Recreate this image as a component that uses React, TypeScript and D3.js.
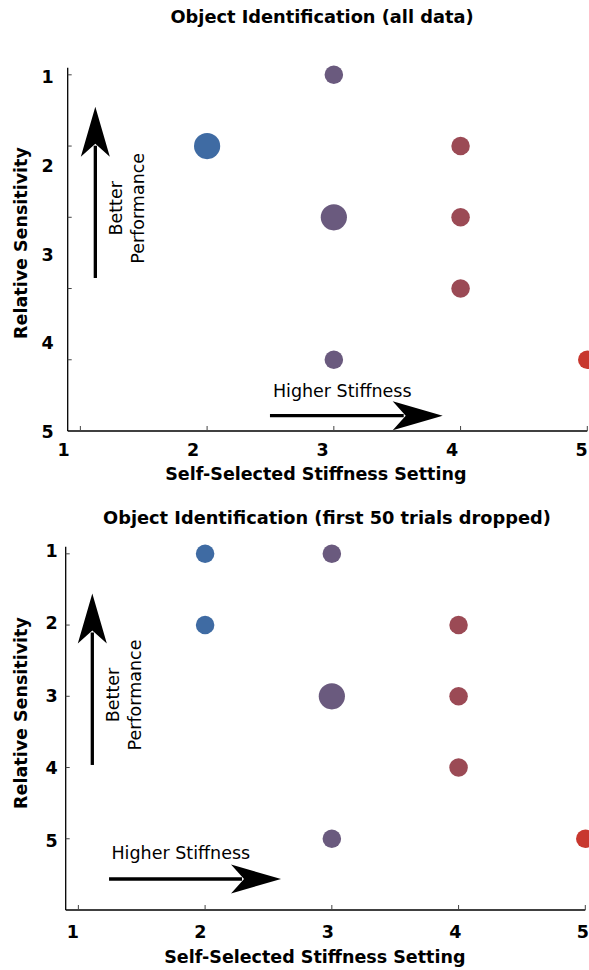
import React from "react";
import * as d3 from "d3";

// Stiffness settings and sensitivity ranks shown on the axes
const stiffnessTicks = [1, 2, 3, 4, 5];
const sensitivityTicks = [1, 2, 3, 4, 5];

// Object identification, all data
const allStiffness = [3, 2, 4, 3, 4, 4, 3, 5];
const allSensitivity = [1, 2, 2, 3, 3, 4, 5, 5];
const allCount = [1, 2, 1, 2, 1, 1, 1, 1];

// Object identification, first 50 trials dropped
const droppedStiffness = [2, 3, 2, 4, 3, 4, 4, 3, 5];
const droppedSensitivity = [1, 1, 2, 2, 3, 3, 4, 5, 5];
const droppedCount = [1, 1, 1, 1, 2, 1, 1, 1, 1];

// One colour per stiffness setting, blue (soft) to red (stiff)
const settingDomain = [2, 3, 4, 5];
const settingColors = ["#3f6ba3", "#6a5a7e", "#9b4a55", "#c8372e"];

const FONT = "'DejaVu Sans', Verdana, sans-serif";

type Layout = {
  title: string;
  titleX: number;
  titleY: number;
  xRange: [number, number];
  yRange: [number, number];
  xLabelRange: [number, number];
  xLabelY: number;
  yLabelRange: [number, number];
  yLabelX: number;
  xTitleY: number;
  yTitleY: number;
  // annotation anchors, in data units
  upArrow: { x: number; tail: number; tip: number; textY: number };
  rightArrow: { y: number; tail: number; tip: number; textX: number; textY: number };
};

const topLayout: Layout = {
  title: "Object Identification (all data)",
  titleX: 322,
  titleY: 22.5,
  xRange: [67.7, 587.3],
  yRange: [67.7, 431],
  xLabelRange: [63.5, 581.7],
  xLabelY: 455.5,
  yLabelRange: [82.7, 438.3],
  yLabelX: 47.5,
  xTitleY: 480,
  yTitleY: 243,
  upArrow: { x: 1.118, tail: 3.852, tip: 1.4475, textY: 2.874 },
  rightArrow: { y: 5.785, tail: 2.496, tip: 3.859, textX: 2.519, textY: 5.522 },
};

const bottomLayout: Layout = {
  title: "Object Identification (first 50 trials dropped)",
  titleX: 327,
  titleY: 524,
  xRange: [65.7, 585.3],
  yRange: [546.7, 910],
  xLabelRange: [72.9, 582.9],
  xLabelY: 937.5,
  yLabelRange: [556.7, 846.7],
  yLabelX: 51.5,
  xTitleY: 963,
  yTitleY: 713,
  upArrow: { x: 1.11, tail: 3.964, tip: 1.557, textY: 2.982 },
  rightArrow: { y: 5.565, tail: 1.242, tip: 2.599, textX: 1.261, textY: 5.287 },
};

function Arrow({ x1, y1, x2, y2 }: { x1: number; y1: number; x2: number; y2: number }) {
  const len = Math.hypot(x2 - x1, y2 - y1);
  const ux = (x2 - x1) / len;
  const uy = (y2 - y1) / len;
  const nx = -uy;
  const ny = ux;
  const headLen = 50;
  const notch = 37;
  const half = 14.5;
  const bx = x2 - headLen * ux;
  const by = y2 - headLen * uy;
  const head = [
    [x2, y2],
    [bx + half * nx, by + half * ny],
    [x2 - notch * ux, y2 - notch * uy],
    [bx - half * nx, by - half * ny],
  ];
  return (
    <g>
      <line
        x1={x1}
        y1={y1}
        x2={x2 - (notch + 2) * ux}
        y2={y2 - (notch + 2) * uy}
        stroke="#000"
        strokeWidth={3.3}
      />
      <polygon points={head.map((p) => p.join(",")).join(" ")} fill="#000" />
    </g>
  );
}

function Panel({
  layout,
  xs,
  ys,
  counts,
}: {
  layout: Layout;
  xs: number[];
  ys: number[];
  counts: number[];
}) {
  const x = d3.scaleLinear().domain([0.9, 5]).range(layout.xRange);
  const y = d3.scaleLinear().domain([0.9, 6]).range(layout.yRange);
  const xLab = d3.scaleLinear().domain([1, 5]).range(layout.xLabelRange);
  const yLab = d3.scaleLinear().domain([1, 5]).range(layout.yLabelRange);
  const r = d3.scaleSqrt().domain([0, 2]).range([0, 13.1]);
  const color = d3.scaleOrdinal<number, string>().domain(settingDomain).range(settingColors);

  const [x0, x1] = layout.xRange;
  const [y0, y1] = layout.yRange;
  const points = d3.range(xs.length).map((i) => ({ s: xs[i], v: ys[i], n: counts[i] }));

  const ua = layout.upArrow;
  const ra = layout.rightArrow;
  const betterX = x(ua.x) + 26.5;

  return (
    <g>
      <text
        x={layout.titleX}
        y={layout.titleY}
        textAnchor="middle"
        fontFamily={FONT}
        fontWeight="bold"
        fontSize={17.8}
      >
        {layout.title}
      </text>

      {/* axes */}
      <line x1={x0} y1={y0} x2={x0} y2={y1} stroke="#000" strokeWidth={1.3} />
      <line x1={x0} y1={y1} x2={x1} y2={y1} stroke="#000" strokeWidth={1.3} />
      {sensitivityTicks.map((t) => (
        <line key={"yt" + t} x1={x0} x2={x0 + 4} y1={y(t)} y2={y(t)} stroke="#444" strokeWidth={1} />
      ))}
      {stiffnessTicks.map((t) => (
        <line key={"xt" + t} x1={x(t)} x2={x(t)} y1={y1} y2={y1 - 5} stroke="#444" strokeWidth={1} />
      ))}
      {sensitivityTicks.map((t) => (
        <text
          key={"yl" + t}
          x={layout.yLabelX}
          y={yLab(t)}
          textAnchor="middle"
          fontFamily={FONT}
          fontWeight="bold"
          fontSize={17.5}
        >
          {t}
        </text>
      ))}
      {stiffnessTicks.map((t) => (
        <text
          key={"xl" + t}
          x={xLab(t)}
          y={layout.xLabelY}
          textAnchor="middle"
          fontFamily={FONT}
          fontWeight="bold"
          fontSize={17.5}
        >
          {t}
        </text>
      ))}
      <text
        x={(x0 + 564) / 2}
        y={layout.xTitleY}
        textAnchor="middle"
        fontFamily={FONT}
        fontWeight="bold"
        fontSize={17.5}
      >
        Self-Selected Stiffness Setting
      </text>
      <text
        transform={`translate(27,${layout.yTitleY}) rotate(-90)`}
        textAnchor="middle"
        fontFamily={FONT}
        fontWeight="bold"
        fontSize={17.5}
      >
        Relative Sensitivity
      </text>

      {/* annotations */}
      <Arrow x1={x(ua.x)} y1={y(ua.tail)} x2={x(ua.x)} y2={y(ua.tip)} />
      <text
        transform={`translate(${betterX},${y(ua.textY)}) rotate(-90)`}
        textAnchor="middle"
        fontFamily={FONT}
        fontSize={17.5}
      >
        Better
      </text>
      <text
        transform={`translate(${betterX + 22},${y(ua.textY)}) rotate(-90)`}
        textAnchor="middle"
        fontFamily={FONT}
        fontSize={17.5}
      >
        Performance
      </text>
      <Arrow x1={x(ra.tail)} y1={y(ra.y)} x2={x(ra.tip)} y2={y(ra.y)} />
      <text x={x(ra.textX)} y={y(ra.textY)} fontFamily={FONT} fontSize={17.5}>
        Higher Stiffness
      </text>

      {/* participants */}
      {points.map((p, i) => (
        <circle key={i} cx={x(p.s)} cy={y(p.v)} r={r(p.n)} fill={color(p.s)} />
      ))}
    </g>
  );
}

export default function App() {
  return (
    <svg
      width={589}
      height={970}
      style={{ position: "absolute", left: 0, top: 0, background: "#fff" }}
    >
      <rect width={589} height={970} fill="#fff" />
      <Panel layout={topLayout} xs={allStiffness} ys={allSensitivity} counts={allCount} />
      <Panel
        layout={bottomLayout}
        xs={droppedStiffness}
        ys={droppedSensitivity}
        counts={droppedCount}
      />
    </svg>
  );
}
